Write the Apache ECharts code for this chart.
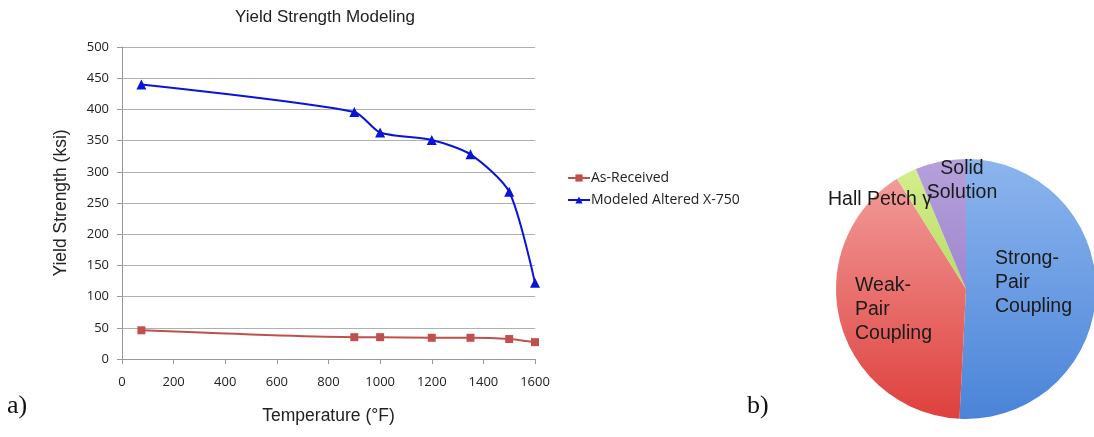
<!DOCTYPE html>
<html><head><meta charset="utf-8">
<script src="https://cdn.jsdelivr.net/npm/echarts@6/dist/echarts.min.js"></script>
<style>html,body{margin:0;padding:0;background:#fff}#c{width:1094px;height:437px}</style>
</head><body><div id="c"></div>
<script>
const temps = [75, 900, 1000, 1200, 1350, 1500, 1600];
const asReceived = [46, 35, 35, 34, 34, 32, 27];
const modeled = [440, 396, 363, 351, 328, 268, 122];
const xTicks = [0, 200, 400, 600, 800, 1000, 1200, 1400, 1600];
const yTicks = [0, 50, 100, 150, 200, 250, 300, 350, 400, 450, 500];
const pieNames = ['Strong-\nPair\nCoupling', 'Weak-\nPair\nCoupling', 'Hall Petch γ', 'Solid\nSolution'];
const pieValues = [50.8, 40.3, 2.6, 6.3];

function grad(top, bottom) {
  return new echarts.graphic.LinearGradient(0, 0, 0, 1, [{offset: 0, color: top}, {offset: 1, color: bottom}]);
}
const pieColors = [grad('#8db5ee', '#4a84d8'), grad('#f29b99', '#de403d'), grad('#d4ee8c', '#b8dc66'), grad('#b6a1db', '#9f86cf')];
const labelPos = [[995, 283], [855, 310], [828, 200], [962, 181]];
const labelAlign = ['left', 'left', 'left', 'center'];

const chart = echarts.init(document.getElementById('c'));
chart.setOption({
  animation: false,
  title: {text: 'Yield Strength Modeling', left: 320, top: 4, textAlign: 'center',
    textStyle: {fontFamily: 'Liberation Sans', fontSize: 17, fontWeight: 'normal', color: '#222'}},
  legend: {orient: 'vertical', left: 562, top: 166, itemGap: 8, itemWidth: 22, itemHeight: 9,
    textStyle: {fontFamily: 'Open Sans', fontSize: 14, color: '#222', padding: [0, 0, 0, -4]},
    data: ['As-Received', 'Modeled Altered X-750']},
  grid: {left: 122, top: 47, width: 413, height: 312, containLabel: false},
  xAxis: {type: 'value', min: 0, max: 1600, interval: 200,
    name: 'Temperature (°F)', nameLocation: 'middle', nameGap: 48,
    nameTextStyle: {fontFamily: 'Liberation Sans', fontSize: 17.5, color: '#222'},
    axisLine: {show: true, lineStyle: {color: '#999'}},
    axisTick: {show: true, length: 5, lineStyle: {color: '#999'}},
    splitLine: {show: false},
    axisLabel: {fontFamily: 'Open Sans', fontSize: 13, color: '#222', margin: 17,
      formatter: v => xTicks.includes(v) ? String(v) : ''}},
  yAxis: {type: 'value', min: 0, max: 500, interval: 50,
    name: 'Yield Strength (ksi)', nameLocation: 'middle', nameGap: 52,
    nameTextStyle: {fontFamily: 'Liberation Sans', fontSize: 17.5, color: '#222'},
    axisLine: {show: true, lineStyle: {color: '#999'}},
    axisTick: {show: true, length: 5, lineStyle: {color: '#999'}},
    splitLine: {show: true, lineStyle: {color: '#b0b0b0'}},
    axisLabel: {fontFamily: 'Open Sans', fontSize: 13, color: '#222', margin: 13,
      formatter: v => yTicks.includes(v) ? String(v) : ''}},
  series: [
    {name: 'As-Received', type: 'line', smooth: 0.2,
      data: temps.map((t, i) => [t, asReceived[i]]),
      symbol: 'rect', symbolSize: 8,
      itemStyle: {color: '#c0504d'}, lineStyle: {color: '#c0504d', width: 2}},
    {name: 'Modeled Altered X-750', type: 'line', smooth: 0.25,
      data: temps.map((t, i) => [t, modeled[i]]),
      symbol: 'triangle', symbolSize: 10,
      itemStyle: {color: '#0a14d8'}, lineStyle: {color: '#0a14d8', width: 2}},
    {type: 'pie', center: [966, 289], radius: 130, startAngle: 90, clockwise: true,
      data: pieNames.map((n, i) => ({name: n, value: pieValues[i], itemStyle: {color: pieColors[i]}})),
      label: {show: true, position: 'inside', fontFamily: 'Liberation Sans', fontSize: 19.5,
        color: '#1a1a1a', lineHeight: 24, align: 'left'},
      labelLine: {show: false},
      labelLayout: p => ({x: labelPos[p.dataIndex][0], y: labelPos[p.dataIndex][1], align: labelAlign[p.dataIndex], verticalAlign: 'middle'}),
      emphasis: {disabled: true}}
  ],
  graphic: [
    {type: 'text', left: 7, top: 393, style: {text: 'a)', font: '26px "Liberation Serif"', fill: '#111'}},
    {type: 'text', left: 747, top: 393, style: {text: 'b)', font: '26px "Liberation Serif"', fill: '#111'}}
  ]
});
</script></body></html>
